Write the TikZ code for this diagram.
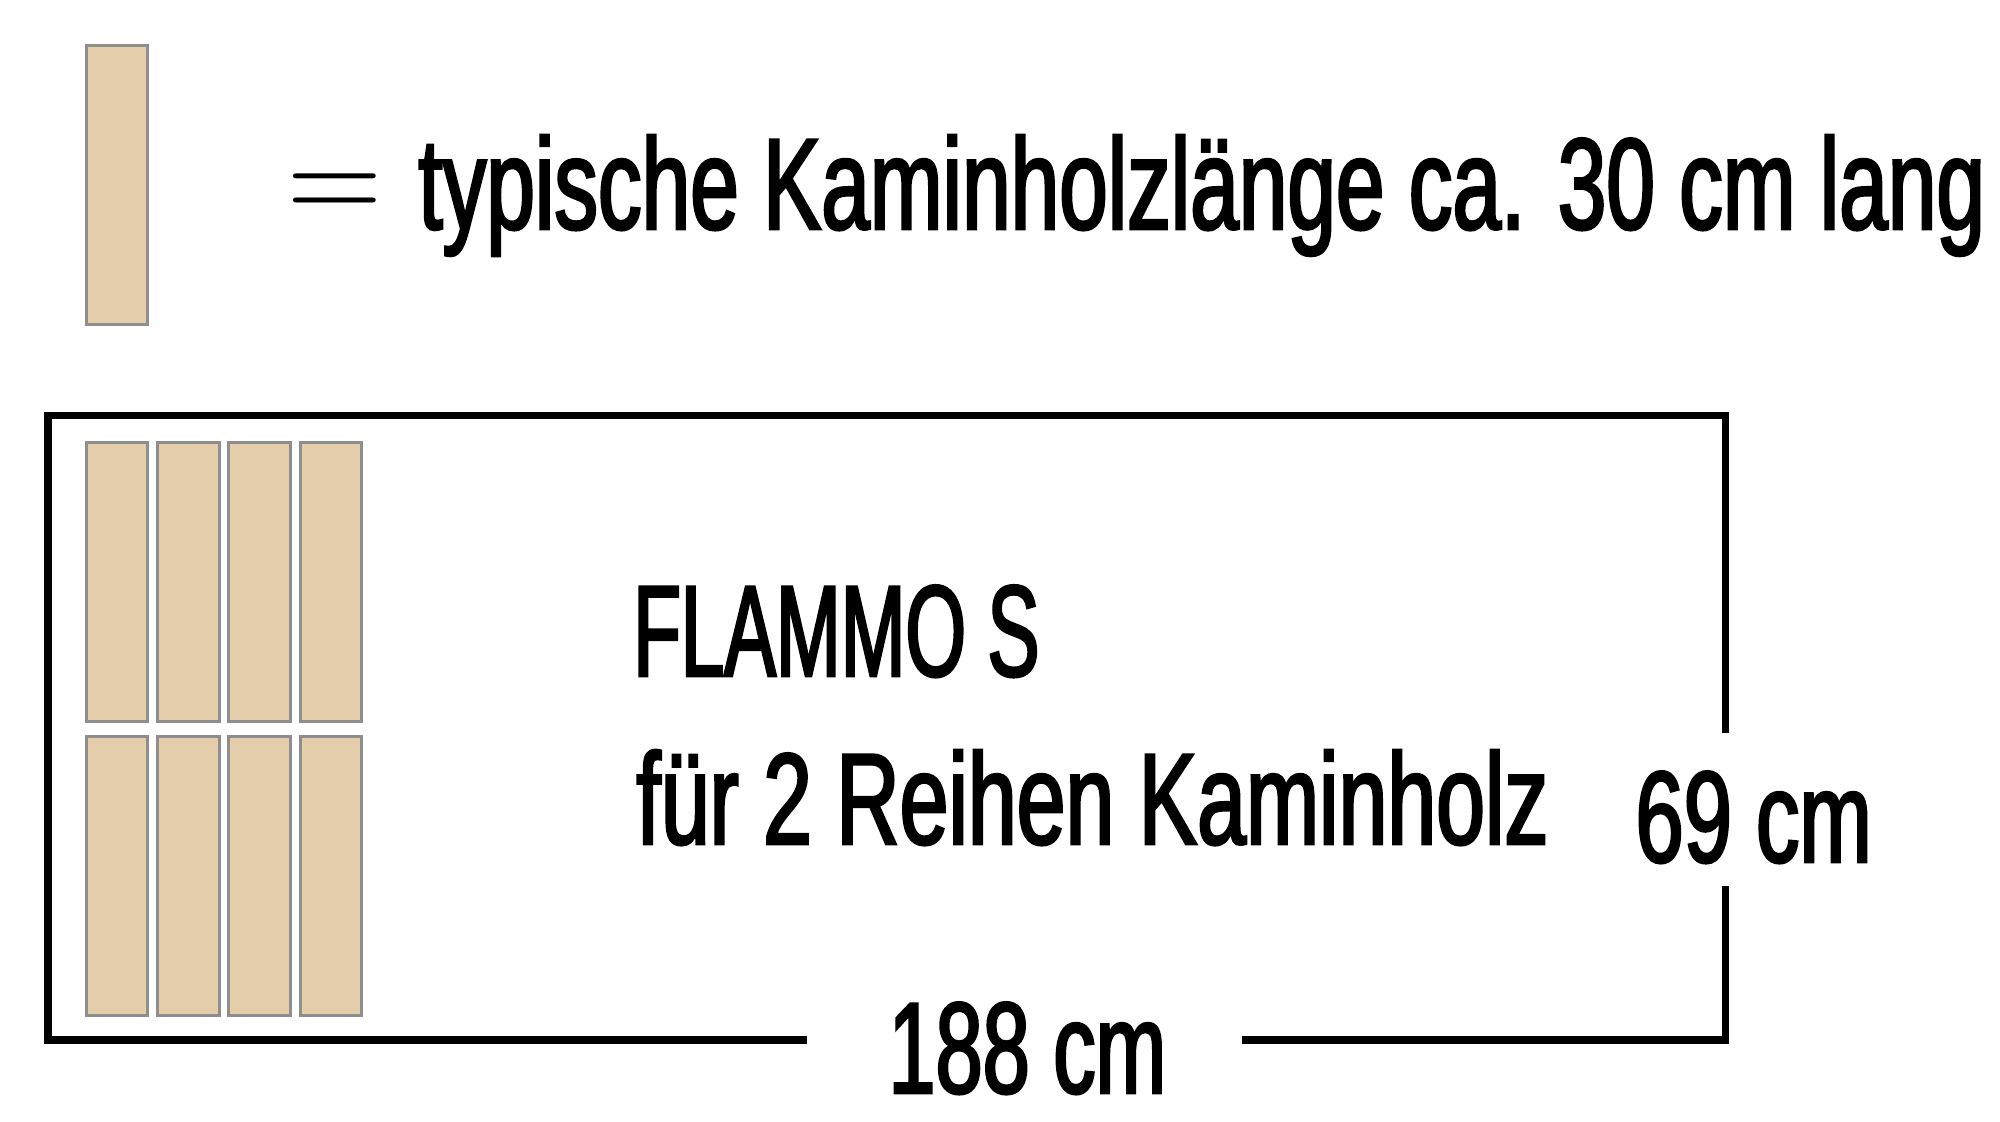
\documentclass[tikz,border=0pt]{standalone}
\usepackage{graphicx}
\usepackage[no-math]{fontspec}
\setmainfont{Liberation Sans}
\usetikzlibrary{positioning}

\definecolor{woodfill}{HTML}{E5CEAB}
\definecolor{woodedge}{HTML}{8E8E8E}

\tikzset{
  log/.style={rectangle, draw=woodedge, fill=woodfill, line width=1.5pt,
    minimum width=30.75pt, minimum height=139.5pt, inner sep=0pt},
  txt/.style={inner sep=0pt, anchor=base west,
    font=\fontsize{65}{70}\selectfont\addfontfeature{FakeStretch=#1,FakeBold=2}},
}

\begin{document}
\begin{tikzpicture}[x=0.5pt, y=-0.5pt]
\useasboundingbox (0, 0) rectangle (2000, 1121);

\node (key)[log] at (117, 185) {};
\node (eq)[inner sep=0pt, anchor=base west] at (286, 219) {\scalebox{6.22}{$=$}};
\node (keytext)[txt=0.672] at (418, 229) {typische Kaminholzlänge ca. 30 cm lang};

\node (w1)[log] at (117, 581.5) {};
\node (w2)[log] at (188.5, 581.5) {};
\node (w3)[log] at (259.5, 581.5) {};
\node (w4)[log] at (331, 581.5) {};
\node (w5)[log] at (117, 875.5) {};
\node (w6)[log] at (188.5, 875.5) {};
\node (w7)[log] at (259.5, 875.5) {};
\node (w8)[log] at (331, 875.5) {};

\node (title)[txt=0.598] at (633, 676) {FLAMMO S};
\node (sub)[txt=0.675] at (636, 844) {für 2 Reihen Kaminholz};

\node (len)[txt=0.652] at (888, 1093) {188 cm};
\node (dep)[txt=0.668] at (1635, 862) {69 cm};

\draw[line width=3.75pt] (807, 1040) -- (48, 1040) -- (48, 415.5) -- (1725.5, 415.5) -- (1725.5, 733);
\draw[line width=3.75pt] (1725.5, 886) -- (1725.5, 1040) -- (1242, 1040);
\end{tikzpicture}
\end{document}
